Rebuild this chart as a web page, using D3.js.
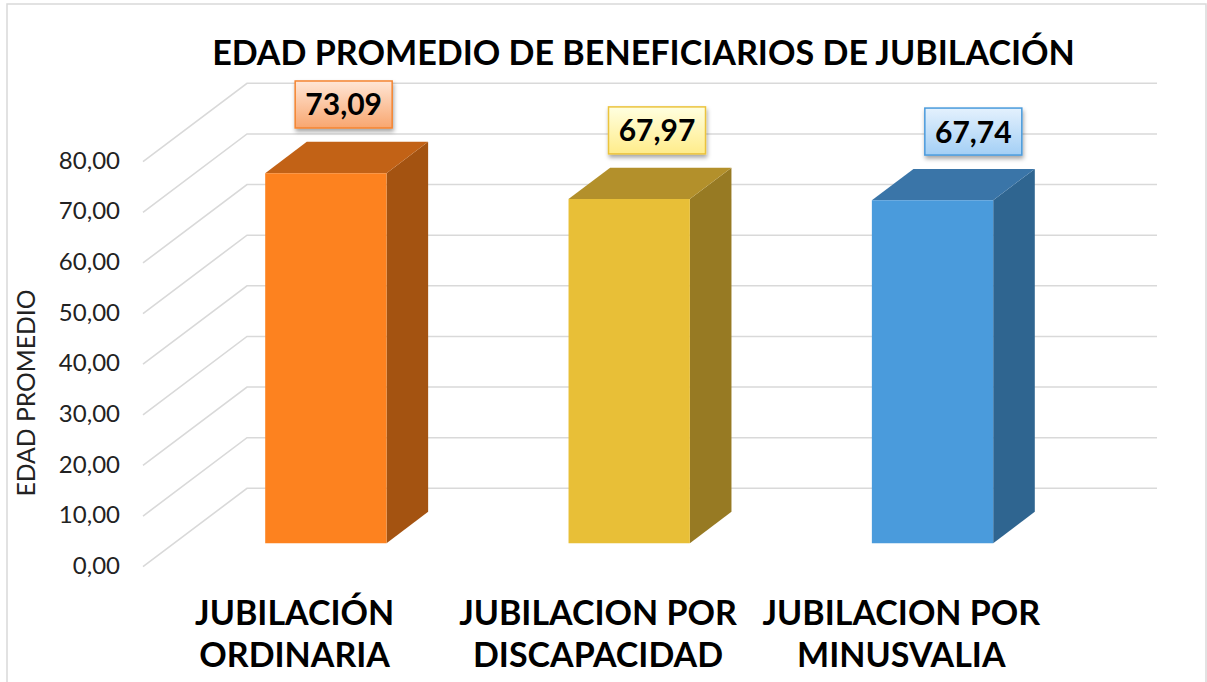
<!DOCTYPE html>
<html>
<head>
<meta charset="utf-8">
<script src="https://cdn.jsdelivr.net/npm/d3@7/dist/d3.min.js"></script>
<style>
  html, body { margin: 0; padding: 0; background: #fff; }
  svg { display: block; }
  text { font-family: Lato, "Open Sans", "DejaVu Sans", sans-serif; }
</style>
</head>
<body>
<svg id="chart" width="1207" height="682"></svg>
<script>
// ---- data ----
const title = "EDAD PROMEDIO DE BENEFICIARIOS DE JUBILACIÓN";
const yTitle = "EDAD PROMEDIO";
const categories = ["JUBILACIÓN ORDINARIA", "JUBILACION POR DISCAPACIDAD", "JUBILACION POR MINUSVALIA"];
const categoryLines = [["JUBILACIÓN", "ORDINARIA"], ["JUBILACION POR", "DISCAPACIDAD"], ["JUBILACION POR", "MINUSVALIA"]];
const values = [73.09, 67.97, 67.74];
const valueLabels = ["73,09", "67,97", "67,74"];
const yTicks = [0, 10, 20, 30, 40, 50, 60, 70, 80];
const yTickLabels = ["0,00", "10,00", "20,00", "30,00", "40,00", "50,00", "60,00", "70,00", "80,00"];

// ---- styles ----
const faceColors = [
  { front: "#FD821F", top: "#C26216", side: "#A45311" },
  { front: "#E8BF37", top: "#B3902B", side: "#977A23" },
  { front: "#4A9BDC", top: "#3A75A8", side: "#2F6590" }
];
const labelStyles = [
  { top: "#FFE6D6", bottom: "#F8A66F", stroke: "#F48431" },
  { top: "#FFFFE0", bottom: "#FFEC8A", stroke: "#EBC33C" },
  { top: "#E4F1FD", bottom: "#A3CFF5", stroke: "#4A9BDC" }
];
const labelDx = [-3, 7, 20];

const svg = d3.select("#chart");
const W = 1207, H = 682;

// 3D projection parameters
const depthX = 104, depthY = -78.4;
const f0 = 0.3, f1 = 0.7;

const x = d3.scaleBand().domain(categories).range([143, 1053]).paddingInner(0.6).paddingOuter(0.3);
const y = d3.scaleLinear().domain([0, 80]).range([566.7, 161.7]);
const proj = (px, v, f) => [px + depthX * f, y(v) + depthY * f];

// defs
const defs = svg.append("defs");
const shadow = defs.append("filter").attr("id", "shadow").attr("x", "-20%").attr("y", "-20%").attr("width", "150%").attr("height", "160%");
shadow.append("feDropShadow").attr("dx", 1).attr("dy", 3).attr("stdDeviation", 2).attr("flood-color", "#000").attr("flood-opacity", 0.35);
labelStyles.forEach((s, i) => {
  const g = defs.append("linearGradient").attr("id", "lg" + i).attr("x1", 0).attr("y1", 0).attr("x2", 0).attr("y2", 1);
  g.append("stop").attr("offset", "0%").attr("stop-color", s.top);
  g.append("stop").attr("offset", "100%").attr("stop-color", s.bottom);
});

// background + frame
svg.append("rect").attr("width", W).attr("height", H).attr("fill", "#fff");
svg.append("rect").attr("x", 7).attr("y", 4).attr("width", 1199).attr("height", 700)
  .attr("fill", "none").attr("stroke", "#D9D9D9").attr("stroke-width", 1.5);

// gridlines (side wall diagonal + back wall)
const xLeft = x.range()[0], xRight = x.range()[1];
svg.append("g").selectAll("path").data(yTicks).join("path")
  .attr("d", v => {
    const a = proj(xLeft, v, 0), b = proj(xLeft, v, 1), c = proj(xRight, v, 1);
    return `M${a}L${b}L${c}`;
  })
  .attr("fill", "none").attr("stroke", "#D9D9D9").attr("stroke-width", 1.6);

// y tick labels
svg.append("g").selectAll("text").data(yTicks).join("text")
  .attr("x", 120).attr("y", v => y(v) + 1)
  .attr("text-anchor", "end").attr("dominant-baseline", "middle")
  .attr("font-size", 24).attr("font-weight", 400).attr("fill", "#222")
  .text((v, i) => yTickLabels[i]);

// y axis title
const yt = svg.append("text")
  .attr("transform", "translate(35,393) rotate(-90)")
  .attr("text-anchor", "middle").attr("font-size", 24).attr("font-weight", 400).attr("fill", "#222")
  .text(yTitle);
fitWidth(yt, 207);

// bars
const bars = svg.append("g").selectAll("g").data(categories).join("g");
bars.each(function (c, i) {
  const g = d3.select(this);
  const v = values[i];
  const xl = x(c), xr = x(c) + x.bandwidth();
  const ftl = proj(xl, v, f0), ftr = proj(xr, v, f0), fbr = proj(xr, 0, f0), fbl = proj(xl, 0, f0);
  const btl = proj(xl, v, f1), btr = proj(xr, v, f1), bbr = proj(xr, 0, f1);
  g.append("path").attr("d", `M${ftr}L${btr}L${bbr}L${fbr}Z`).attr("fill", faceColors[i].side);
  g.append("path").attr("d", `M${ftl}L${btl}L${btr}L${ftr}Z`).attr("fill", faceColors[i].top);
  g.append("path").attr("d", `M${ftl}L${ftr}L${fbr}L${fbl}Z`).attr("fill", faceColors[i].front);
});

// data labels
const lbl = svg.append("g").selectAll("g").data(categories).join("g")
  .attr("transform", (c, i) => {
    const p = proj(x(c) + x.bandwidth() / 2, values[i], 0.5);
    return `translate(${p[0] + labelDx[i]},${p[1] - 53})`;
  });
lbl.append("rect").attr("x", -48.5).attr("y", -23.5).attr("width", 97).attr("height", 47)
  .attr("fill", (c, i) => `url(#lg${i})`)
  .attr("stroke", (c, i) => labelStyles[i].stroke).attr("stroke-width", 1.5)
  .attr("filter", "url(#shadow)");
lbl.append("text").attr("text-anchor", "middle").attr("y", 11)
  .attr("font-size", 30).attr("font-weight", 700).attr("fill", "#000")
  .text((c, i) => valueLabels[i]);

// category labels
const cat = svg.append("g").selectAll("text").data(categories).join("text")
  .attr("text-anchor", "middle").attr("font-weight", 700).attr("font-size", 34).attr("fill", "#000");
cat.each(function (c, i) {
  const t = d3.select(this);
  categoryLines[i].forEach((line, j) => {
    t.append("tspan").attr("x", x(c) + x.bandwidth() / 2).attr("y", 625 + j * 42).text(line);
  });
});

// title
const tt = svg.append("text").attr("x", 643.5).attr("y", 65).attr("text-anchor", "middle")
  .attr("font-size", 34).attr("font-weight", 700).attr("fill", "#000").text(title);
fitWidth(tt, 863);

function fitWidth(sel, target) {
  const node = sel.node();
  const w = node.getComputedTextLength();
  const fs = parseFloat(sel.attr("font-size"));
  if (w > 0) sel.attr("font-size", fs * target / w);
}
</script>
</body>
</html>
